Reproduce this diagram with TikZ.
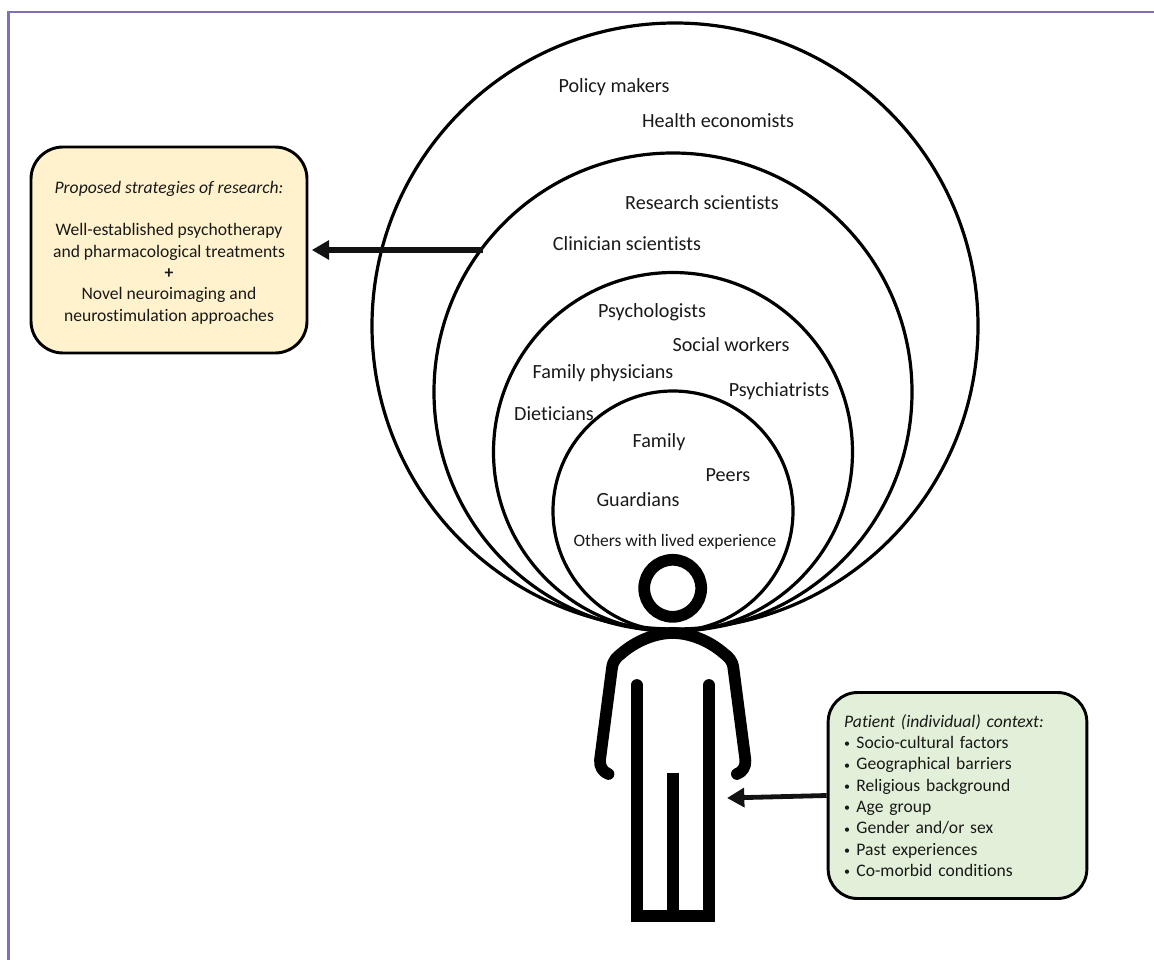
\documentclass[tikz,border=0pt]{standalone}
\usepackage{fontspec}
\setmainfont[Ligatures=NoCommon]{Carlito}
\usetikzlibrary{arrows.meta}
\newcommand{\bul}{\makebox[9.2pt][l]{\raisebox{0.6pt}{\fontsize{9pt}{9pt}\selectfont•}}}
\tikzset{
  ring/.style={draw=black,line width=2.4pt,fill=none},
  lab/.style={anchor=base,inner sep=0pt,font=\fontsize{15.1pt}{18pt}\selectfont,text=black!90},
  smalllab/.style={lab,font=\fontsize{13.1pt}{16pt}\selectfont},
  boxy/.style={draw=black,line width=2.2pt,rounded corners=24pt,inner sep=0pt,text=black!90,font=\fontsize{13.2pt}{16pt}\selectfont},
  figure/.style={draw=black,line width=8.8pt},
  flow/.style={draw=black!93,line width=4.4pt,-{Triangle[length=13pt,width=14pt]}},
  flowthin/.style={draw=black!93,line width=3.6pt,-{Triangle[length=13pt,width=14pt]}},
}
\definecolor{framec}{HTML}{8170B8}
\definecolor{yellowbox}{HTML}{FFF2CC}
\definecolor{greenbox}{HTML}{E2F0D9}
\begin{document}
\begin{tikzpicture}[x=0.75pt,y=-0.75pt]
\useasboundingbox (0,0) rectangle (1154,960);
\draw[framec,line width=2.2pt] (8.3,960) -- (8.3,12) -- (1154,12);
% circles
\draw[ring] (675,326) circle[radius=303];
\draw[ring] (673,392) circle[radius=239];
\draw[ring] (673,452) circle[radius=179.5];
\draw[ring] (673,511) circle[radius=120];
% labels
\node[lab] (policy) at (614,92) {Policy makers};
\node[lab] (health) at (718,127) {Health economists};
\node[lab] (research) at (702,209) {Research scientists};
\node[lab] (clinician) at (627,250) {Clinician scientists};
\node[lab] (psychol) at (652,317) {Psychologists};
\node[lab] (social) at (731,351) {Social workers};
\node[lab] (physicians) at (603,378) {Family physicians};
\node[lab] (psychia) at (779,396) {Psychiatrists};
\node[lab] (dieticians) at (554,420) {Dieticians};
\node[lab] (family) at (659,447) {Family};
\node[lab] (peers) at (728,481) {Peers};
\node[lab] (guardians) at (638,506) {Guardians};
\node[smalllab] (others) at (675,546) {Others with lived experience};
% person
\draw[line width=8.8pt] (672.7,588.3) circle[radius=28.5];
\draw[figure,line cap=round,line join=round]
  (608.5,774) .. controls (603,772) and (599.5,767) .. (600,760) -- (612,668)
  .. controls (613,660) and (617,657) .. (622,653)
  .. controls (636,641) and (655,633) .. (672.7,633)
  .. controls (690.4,633) and (709.4,641) .. (723.4,653)
  .. controls (728.4,657) and (732.4,660) .. (733.4,668)
  -- (745.4,760) .. controls (745.9,767) and (742.4,772) .. (736.9,774);
\draw[figure,line cap=round,line join=miter] (636.7,685) -- (636.7,916) -- (709,916) -- (709,685);
\draw[figure,line cap=butt] (673,772.7) -- (673,916);
% boxes
\node[boxy,fill=yellowbox,align=center,minimum width=207pt,minimum height=154.5pt] (strategies) at (169,250)
 {\rule{0pt}{13pt}\textit{Proposed strategies of research:}\\[16pt]
  Well-established psychotherapy\\
  and pharmacological treatments\\
  \textbf{+}\\
  Novel neuroimaging and\\
  neurostimulation approaches};
\node[boxy,fill=greenbox,align=left,minimum width=194pt,minimum height=154.5pt,text width=170pt,rounded corners=22pt] (context) at (957.5,795.5)
 {\textit{Patient (individual) context:}\\
  \bul Socio-cultural factors\\
  \bul Geographical barriers\\
  \bul Religious background\\
  \bul Age group\\
  \bul Gender and/or sex\\
  \bul Past experiences\\
  \bul Co-morbid conditions};
% arrows
\coordinate (ringpt) at (483,250);
\coordinate (legpt) at (727,798);
\draw[flow,shorten >=2.5pt] (ringpt) -- (strategies.east |- ringpt);
\draw[flowthin] (context.west) -- (legpt);
\end{tikzpicture}
\end{document}
